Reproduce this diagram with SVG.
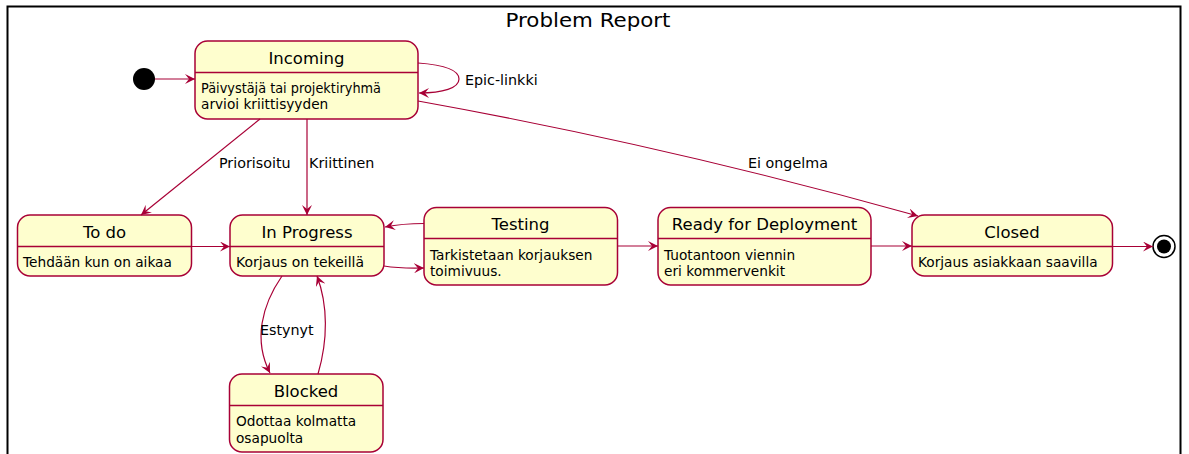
<svg xmlns="http://www.w3.org/2000/svg" width="1189" height="454" viewBox="0 0 1189 454">
  <style>
    text { font-family: "DejaVu Sans", Verdana, sans-serif; fill: #000; }
    .frame { fill: none; stroke: #000; stroke-width: 2; }
    .title { font-size: 19px; text-anchor: middle; }
    .state { fill: #FEFECE; stroke: #A80036; stroke-width: 1.5; }
    .sep { stroke: #A80036; stroke-width: 1.5; }
    .name { font-size: 16.5px; text-anchor: middle; }
    .desc { font-size: 13.7px; }
    .edge { fill: none; stroke: #A80036; stroke-width: 1.2; }
    .lbl { font-size: 14.3px; }
  </style>
  <defs>
    <marker id="arrow" markerUnits="userSpaceOnUse" viewBox="0 0 10 10" markerWidth="10" markerHeight="10" refX="10" refY="5" orient="auto">
      <path d="M0,0 L10,5 L0,10 L4,5 Z" fill="#A80036"/>
    </marker>
  </defs>

  <!-- composite state frame -->
  <rect class="frame" x="7.5" y="6.5" width="1173" height="470"/>
  <text class="title" x="588" y="27" textLength="165" lengthAdjust="spacingAndGlyphs">Problem Report</text>

  <!-- pseudo states -->
  <g id="start">
    <circle cx="144" cy="79" r="11" fill="#000"/>
  </g>
  <g id="end">
    <circle cx="1164" cy="246.5" r="11" fill="none" stroke="#000" stroke-width="1.5"/>
    <circle cx="1164" cy="246.5" r="7" fill="#000"/>
  </g>

  <!-- states -->
  <g id="incoming">
    <rect class="state" x="195" y="41" width="223" height="78" rx="12.5"/>
    <line class="sep" x1="195" y1="72.5" x2="418" y2="72.5"/>
    <text class="name" x="306.5" y="63.5">Incoming</text>
    <text class="desc" x="201" y="93" textLength="180" lengthAdjust="spacingAndGlyphs">Päivystäjä tai projektiryhmä</text>
    <text class="desc" x="201" y="109">arvioi kriittisyyden</text>
  </g>
  <g id="todo">
    <rect class="state" x="17.5" y="215" width="174" height="61" rx="12.5"/>
    <line class="sep" x1="17.5" y1="246.5" x2="191.5" y2="246.5"/>
    <text class="name" x="104.5" y="238">To do</text>
    <text class="desc" x="23" y="266.5">Tehdään kun on aikaa</text>
  </g>
  <g id="inprogress">
    <rect class="state" x="230" y="215" width="154" height="61" rx="12.5"/>
    <line class="sep" x1="230" y1="246.5" x2="384" y2="246.5"/>
    <text class="name" x="307" y="238">In Progress</text>
    <text class="desc" x="236" y="266.5" textLength="128" lengthAdjust="spacingAndGlyphs">Korjaus on tekeillä</text>
  </g>
  <g id="testing">
    <rect class="state" x="424" y="207.5" width="193.5" height="77.5" rx="12.5"/>
    <line class="sep" x1="424" y1="238.5" x2="617.5" y2="238.5"/>
    <text class="name" x="520.5" y="230">Testing</text>
    <text class="desc" x="430" y="259.5">Tarkistetaan korjauksen</text>
    <text class="desc" x="430" y="275.5">toimivuus.</text>
  </g>
  <g id="ready">
    <rect class="state" x="658" y="207.5" width="213" height="77.5" rx="12.5"/>
    <line class="sep" x1="658" y1="238.5" x2="871" y2="238.5"/>
    <text class="name" x="764.5" y="230">Ready for Deployment</text>
    <text class="desc" x="664" y="259.5">Tuotantoon viennin</text>
    <text class="desc" x="664" y="275.5">eri kommervenkit</text>
  </g>
  <g id="closed">
    <rect class="state" x="912" y="215" width="200.5" height="61" rx="12.5"/>
    <line class="sep" x1="912" y1="246.5" x2="1112.5" y2="246.5"/>
    <text class="name" x="1012" y="238">Closed</text>
    <text class="desc" x="918" y="266.5">Korjaus asiakkaan saavilla</text>
  </g>
  <g id="blocked">
    <rect class="state" x="229.5" y="374" width="153.5" height="78" rx="12.5"/>
    <line class="sep" x1="229.5" y1="405.5" x2="383" y2="405.5"/>
    <text class="name" x="306" y="397">Blocked</text>
    <text class="desc" x="236" y="426">Odottaa kolmatta</text>
    <text class="desc" x="236" y="442.5">osapuolta</text>
  </g>

  <!-- transitions -->
  <g id="transitions">
    <path class="edge" marker-end="url(#arrow)" d="M155,79 L195,79"/>
    <path class="edge" marker-end="url(#arrow)" d="M418,63 C446,65 459,71 459,79 C459,88 443,93 419,93"/>
    <path class="edge" marker-end="url(#arrow)" d="M260,119 L141,215"/>
    <path class="edge" marker-end="url(#arrow)" d="M307,119 L307,215"/>
    <path class="edge" marker-end="url(#arrow)" d="M418,101 Q668,146 918,216"/>
    <path class="edge" marker-end="url(#arrow)" d="M191.5,246.5 L230,246.5"/>
    <path class="edge" marker-end="url(#arrow)" d="M384,266 C396,268 406,268.5 424,268"/>
    <path class="edge" marker-end="url(#arrow)" d="M424,223.5 C410,223.5 400,224 385,227"/>
    <path class="edge" marker-end="url(#arrow)" d="M617.5,246 L658,246"/>
    <path class="edge" marker-end="url(#arrow)" d="M871,246 L912,246"/>
    <path class="edge" marker-end="url(#arrow)" d="M1112.5,246.5 L1153,246.5"/>
    <path class="edge" marker-end="url(#arrow)" d="M282,276 C262,305 253,340 270,373"/>
    <path class="edge" marker-end="url(#arrow)" d="M318,374 C328,340 328,305 317,276"/>
    <text class="lbl" x="465" y="85">Epic-linkki</text>
    <text class="lbl" x="219" y="168">Priorisoitu</text>
    <text class="lbl" x="309" y="168">Kriittinen</text>
    <text class="lbl" x="748" y="168">Ei ongelma</text>
    <text class="lbl" x="260" y="335">Estynyt</text>
  </g>
</svg>
